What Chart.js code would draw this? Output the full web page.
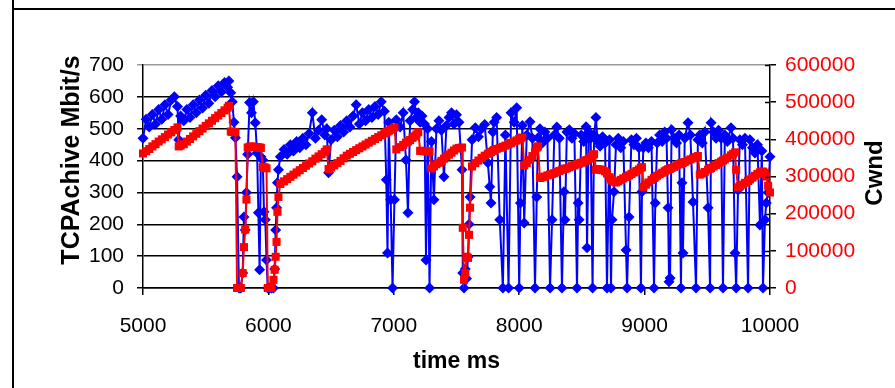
<!DOCTYPE html>
<html>
<head>
<meta charset="utf-8">
<script src="https://cdn.jsdelivr.net/npm/chart.js@4/dist/chart.umd.min.js"></script>
<style>
  html, body { margin: 0; padding: 0; background: #ffffff; }
  #wrap { width: 895px; height: 388px; }
</style>
</head>
<body>
<div id="wrap"><canvas id="chart" width="895" height="388"></canvas></div>
<script>
// Sample times (ms) shared by both traces
const timeMs = [
  5000,5025,5050,5075,5100,5125,5150,5175,5200,5225,5250,5275,5285,5300,5325,5350,5375,5400,5425,5450,
  5475,5500,5525,5550,5575,5600,5625,5650,5675,5685,5700,5712,5725,5737,5750,5765,5780,5795,5805,5815,
  5825,5835,5850,5865,5880,5895,5910,5920,5930,5940,5955,5965,5975,5985,5995,6010,6025,6040,6050,6058,
  6065,6072,6080,6095,6125,6150,6175,6200,6225,6250,6275,6300,6325,6350,6375,6400,6425,6450,6465,6480,
  6500,6525,6550,6575,6600,6625,6650,6675,6700,6725,6750,6775,6800,6825,6850,6875,6900,6925,6940,6950,
  6960,6975,6990,7005,7020,7050,7075,7097,7113,7130,7150,7165,7180,7195,7210,7225,7245,7257,7270,7285,
  7300,7320,7340,7360,7380,7400,7420,7440,7460,7480,7500,7520,7544,7550,7560,7570,7580,7592,7600,7608,
  7624,7650,7675,7700,7725,7750,7765,7775,7790,7800,7820,7845,7870,7890,7915,7935,7960,7980,8000,8010,
  8025,8040,8060,8086,8105,8126,8140,8150,8165,8185,8205,8225,8246,8262,8280,8300,8320,8341,8357,8365,
  8380,8400,8420,8440,8461,8470,8478,8495,8515,8533,8541,8555,8570,8585,8597,8612,8625,8645,8665,8685,
  8700,8720,8732,8740,8756,8772,8790,8810,8830,8852,8860,8876,8895,8915,8935,8955,8971,8979,8990,9010,
  9030,9055,9075,9085,9100,9120,9140,9160,9175,9187,9195,9203,9215,9235,9255,9275,9290,9298,9306,9320,
  9346,9365,9386,9410,9425,9440,9460,9480,9506,9522,9530,9550,9570,9590,9610,9625,9640,9660,9689,9705,
  9721,9730,9745,9760,9780,9800,9825,9840,9860,9880,9900,9920,9935,9944,9960,9970,9985,10000
];

// Achieved TCP throughput (Mbit/s), left axis
const achievedMbps = [
  470,530,505,545,515,560,530,575,545,590,600,570,465,540,525,560,535,575,550,590,
  565,605,580,620,600,635,615,645,630,650,613,585,520,472,349,0,0,47,223,182,
  300,420,582,550,585,519,424,236,57,412,402,239,214,88,0,0,0,0,60,182,
  252,330,371,412,435,420,450,430,460,440,470,450,485,550,470,495,528,480,500,362,
  465,495,475,510,490,525,505,540,575,515,550,525,560,535,570,545,585,555,340,110,
  520,277,0,277,528,505,550,402,236,525,560,585,535,550,520,540,515,88,500,0,
  460,277,500,525,495,349,510,535,550,515,544,520,371,47,0,60,30,97,200,286,
  465,503,475,500,513,393,318,267,490,520,535,214,0,480,0,550,520,566,0,267,
  510,204,480,522,470,0,286,472,500,455,490,470,0,214,480,505,470,0,302,214,
  490,497,470,485,0,267,214,480,460,506,126,490,470,0,480,535,460,445,475,455,
  0,465,0,214,302,450,470,440,460,119,0,223,465,450,470,440,0,302,440,455,
  440,460,0,267,455,480,460,490,470,252,20,31,497,470,455,480,0,330,110,470,
  519,480,270,0,465,480,455,490,252,0,519,490,470,495,470,0,480,460,503,470,
  110,0,308,465,450,470,0,465,440,424,450,198,430,0,214,267,300,412
];

// Congestion window (bytes), right axis
const cwndBytes = [
  362000,368000,374000,381000,387000,394000,400000,406000,413000,419000,425000,432000,381000,383000,387000,394000,401000,408000,415000,422000,
  429000,436000,443000,450000,457000,464000,471000,478000,485000,490000,421000,420000,420000,419000,0,0,0,40000,110000,157000,
  238000,378000,380000,381000,380000,379000,379000,378000,378000,377000,325000,324000,324000,322000,0,0,0,22000,49000,84000,
  124000,205000,245000,280000,287000,293000,299000,305000,311000,317000,323000,329000,335000,341000,348000,354000,360000,366000,373000,320000,
  324000,330000,336000,342000,349000,356000,361000,366000,371000,376000,381000,386000,391000,396000,401000,406000,411000,416000,419000,421000,
  423000,426000,428000,432000,373000,379000,385000,391000,394000,398000,404000,408000,413000,419000,369000,369000,368000,368000,367000,367000,
  322000,327000,333000,337000,342000,348000,354000,359000,364000,370000,375000,377000,378000,162000,22000,40000,84000,81000,143000,216000,
  327000,336000,343000,350000,356000,361000,364000,366000,369000,371000,374000,377000,380000,383000,387000,390000,394000,397000,401000,403000,
  405000,330000,336000,345000,355000,367000,378000,381000,296000,298000,300000,303000,305000,307000,309000,312000,315000,318000,320000,321000,
  322000,325000,328000,330000,333000,334000,335000,337000,340000,343000,344000,348000,352000,356000,360000,318000,320000,319000,317000,314000,
  308000,298000,292000,289000,286000,284000,287000,291000,295000,299000,300000,303000,307000,311000,315000,319000,324000,325000,272000,278000,
  284000,291000,296000,298000,302000,306000,310000,314000,317000,319000,320000,321000,323000,326000,330000,333000,335000,336000,337000,339000,
  343000,346000,349000,352000,355000,305000,308000,312000,318000,321000,323000,327000,331000,336000,340000,343000,346000,351000,357000,361000,
  365000,318000,271000,274000,278000,283000,288000,292000,297000,302000,307000,311000,313000,313000,310000,300000,275000,257000
];

const leftTickValues = [0, 100, 200, 300, 400, 500, 600, 700];
const rightTickValues = [0, 100000, 200000, 300000, 400000, 500000, 600000];
const timeTickValues = [5000, 6000, 7000, 8000, 9000, 10000];

const FONT = 'Arial, "Liberation Sans", sans-serif';

const blueSeries = timeMs.map((t, i) => ({ x: t, y: achievedMbps[i] }));
const redSeries = timeMs.map((t, i) => ({ x: t, y: cwndBytes[i] }));

// Page frame, inner halves of the right-axis ticks and the two vertical axis titles
const decorations = {
  id: 'decorations',
  beforeDraw(chart) {
    const { ctx, width, height } = chart;
    ctx.save();
    ctx.fillStyle = '#ffffff';
    ctx.fillRect(0, 0, width, height);
    ctx.strokeStyle = '#000000';
    ctx.lineWidth = 2;
    ctx.beginPath();
    ctx.moveTo(13, 0); ctx.lineTo(13, height);
    ctx.moveTo(13, 9); ctx.lineTo(width, 9);
    ctx.stroke();
    ctx.restore();
  },
  afterDraw(chart) {
    const { ctx } = chart;
    const r = chart.scales.y1;
    ctx.save();
    ctx.strokeStyle = '#000000';
    ctx.lineWidth = 1.5;
    ctx.beginPath();
    rightTickValues.forEach(v => {
      const y = Math.round(r.getPixelForValue(v)) + 0.5;
      ctx.moveTo(r.left - 5, y); ctx.lineTo(r.left, y);
    });
    ctx.stroke();

    ctx.fillStyle = '#000000';
    ctx.font = 'bold 25px ' + FONT;
    ctx.textAlign = 'center';
    ctx.textBaseline = 'middle';
    ctx.translate(72, 160);
    ctx.rotate(-Math.PI / 2);
    ctx.fillText('TCPAchive Mbit/s', 0, 0);
    ctx.restore();

    ctx.save();
    ctx.fillStyle = '#000000';
    ctx.font = 'bold 24px ' + FONT;
    ctx.textAlign = 'center';
    ctx.textBaseline = 'middle';
    ctx.translate(875, 173);
    ctx.rotate(-Math.PI / 2);
    ctx.fillText('Cwnd', 0, 0);
    ctx.restore();
  }
};

new Chart(document.getElementById('chart'), {
  type: 'line',
  data: {
    datasets: [
      {
        label: 'Cwnd',
        data: redSeries,
        yAxisID: 'y1',
        order: 0,
        borderColor: '#ff0000',
        backgroundColor: '#ff0000',
        borderWidth: 2,
        pointStyle: 'rect',
        pointRadius: 5.7,
        pointBorderWidth: 0,
        pointBackgroundColor: '#ff0000',
        tension: 0,
        clip: false
      },
      {
        label: 'TCPAchive Mbit/s',
        data: blueSeries,
        yAxisID: 'y',
        order: 1,
        borderColor: '#0000ff',
        backgroundColor: '#0000ff',
        borderWidth: 2,
        pointStyle: 'rectRot',
        pointRadius: 5.5,
        pointBorderWidth: 0,
        pointBackgroundColor: '#0000ff',
        tension: 0,
        clip: false
      }
    ]
  },
  options: {
    responsive: false,
    animation: false,
    devicePixelRatio: 1,
    layout: { padding: { top: 65, left: 0, right: 0, bottom: 0 } },
    plugins: {
      legend: { display: false },
      tooltip: { enabled: false },
      title: { display: false }
    },
    scales: {
      x: {
        type: 'linear',
        position: 'bottom',
        min: 5000,
        max: 10000,
        afterFit(scale) { scale.height = 100; },
        afterBuildTicks(scale) { scale.ticks = timeTickValues.map(v => ({ value: v })); },
        ticks: {
          color: '#000000',
          font: { family: FONT, size: 21 },
          padding: 19,
          maxRotation: 0,
          callback: v => String(v)
        },
        grid: { drawOnChartArea: false, drawTicks: true, tickLength: 7, color: '#000000', lineWidth: 1.5 },
        border: { display: true, color: '#000000', width: 1.5 },
        title: {
          display: true,
          text: 'time ms',
          color: '#000000',
          font: { family: FONT, size: 23, weight: 'bold' },
          padding: { top: 0, bottom: 13 }
        }
      },
      y: {
        type: 'linear',
        position: 'left',
        min: 0,
        max: 700,
        afterFit(scale) { scale.width = 143; },
        afterBuildTicks(scale) { scale.ticks = leftTickValues.map(v => ({ value: v })); },
        ticks: {
          color: '#000000',
          font: { family: FONT, size: 21 },
          padding: 13,
          callback: v => String(v)
        },
        grid: {
          drawOnChartArea: true,
          drawTicks: true,
          tickLength: 6,
          lineWidth: 1.5,
          color: ctx => (ctx.tick && ctx.tick.value === 700) ? '#9a9a9a' : '#000000'
        },
        border: { display: true, color: '#000000', width: 1.5 }
      },
      y1: {
        type: 'linear',
        position: 'right',
        min: 0,
        max: 600000,
        afterFit(scale) { scale.width = 125; },
        afterBuildTicks(scale) { scale.ticks = rightTickValues.map(v => ({ value: v })); },
        ticks: {
          color: '#ff0000',
          font: { family: FONT, size: 21 },
          padding: 9,
          callback: v => String(v)
        },
        grid: { drawOnChartArea: false, drawTicks: true, tickLength: 6, color: '#000000', lineWidth: 1.5 },
        border: { display: true, color: '#000000', width: 1.5 }
      }
    }
  },
  plugins: [decorations]
});
</script>
</body>
</html>
